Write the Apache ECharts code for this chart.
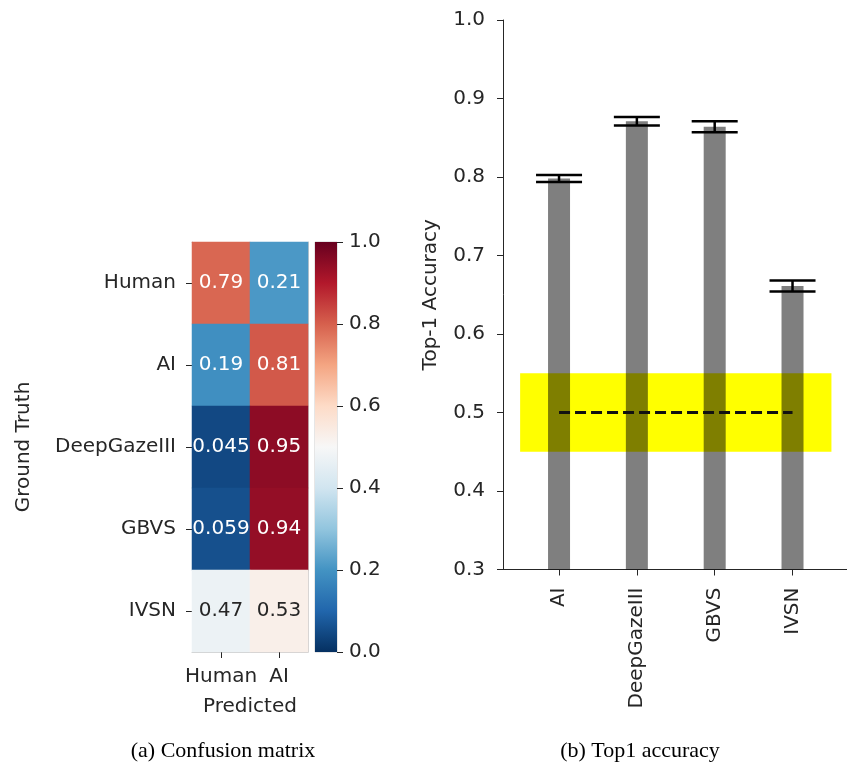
<!DOCTYPE html>
<html><head><meta charset="utf-8">
<script src="https://cdn.jsdelivr.net/npm/echarts@6/dist/echarts.min.js"></script>
<style>html,body{margin:0;padding:0;background:#fff}#c{width:847px;height:769px}</style>
</head><body><div id="c"></div>
<script>
// ---- data ----
const cmPredicted = ['Human', 'AI'];
const cmTruth = ['Human', 'AI', 'DeepGazeIII', 'GBVS', 'IVSN'];
const cmPredHuman = [0.79, 0.19, 0.045, 0.059, 0.47];
const cmPredAI = [0.21, 0.81, 0.95, 0.94, 0.53];
const colorbarMin = 0;
const colorbarMax = 1;
const colorbarStep = 0.2;
const accCategories = ['AI', 'DeepGazeIII', 'GBVS', 'IVSN'];
const accMean = [0.798, 0.871, 0.864, 0.661];
const accErr = [0.0045, 0.0055, 0.007, 0.007];
const chanceLevel = 0.5;
const chanceBandLow = 0.45;
const chanceBandHigh = 0.55;
const accAxisMin = 0.3;
const accAxisMax = 1.0;
const accAxisStep = 0.1;

// ---- style ----
const RDBU_R = ['#053061','#2166ac','#4393c3','#92c5de','#d1e5f0','#f7f7f7','#fddbc7','#f4a582','#d6604d','#b2182b','#67001f'];
const FONT = 'DejaVu Sans';
const TXT = '#262626';
const FS = 20;

const heatData = [];
cmTruth.forEach((t, r) => {
  [cmPredHuman[r], cmPredAI[r]].forEach((v, c) => {
    heatData.push({value: [c, r, v], label: {color: (v > 0.3 && v < 0.7) ? TXT : '#ffffff'}});
  });
});

const catIdx = accCategories.map((_, i) => i);
const chart = echarts.init(document.getElementById('c'), null, {renderer: 'canvas'});
chart.setOption({
  animation: false,
  backgroundColor: '#fff',
  textStyle: {fontFamily: FONT},
  title: [
    {text: '(a) Confusion matrix', left: 218, top: 735, textAlign: 'center',
     textStyle: {fontFamily: 'Liberation Serif', fontSize: 22, fontWeight: 'normal', color: '#000'}},
    {text: '(b) Top1 accuracy', left: 635, top: 735, textAlign: 'center',
     textStyle: {fontFamily: 'Liberation Serif', fontSize: 22, fontWeight: 'normal', color: '#000'}}
  ],
  grid: [
    {left: 192, top: 242, width: 116, height: 410, show: false},
    {left: 503, top: 20, width: 349, height: 549.5, show: false},
    {left: 315, top: 242, width: 22, height: 410, show: true, borderColor: '#cccccc', borderWidth: 1}
  ],
  visualMap: {show: false, min: colorbarMin, max: colorbarMax, seriesIndex: 0, inRange: {color: RDBU_R}},
  xAxis: [
    {gridIndex: 0, type: 'category', data: cmPredicted, position: 'bottom',
     name: 'Predicted', nameLocation: 'middle', nameGap: 45,
     nameTextStyle: {fontSize: FS, color: TXT, fontFamily: FONT},
     axisLine: {show: true, lineStyle: {color: '#cccccc'}},
     axisTick: {show: true, alignWithLabel: true, length: 6, lineStyle: {color: TXT}},
     axisLabel: {fontSize: FS, color: TXT, margin: 15, interval: 0, fontFamily: FONT}},
    {gridIndex: 1, type: 'value', min: -0.72, max: 3.7,
     splitLine: {show: false},
     axisLine: {show: true, onZero: false, lineStyle: {color: TXT, width: 1}},
     axisTick: {show: true, length: 6, customValues: catIdx, lineStyle: {color: TXT}},
     axisLabel: {fontSize: FS, color: TXT, rotate: 90, margin: 18, fontFamily: FONT,
       customValues: catIdx, formatter: v => accCategories[Math.round(v)] || ''}},
    {gridIndex: 2, type: 'category', data: ['cb'], show: false},
    {gridIndex: 0, type: 'category', data: cmPredicted, position: 'top', show: true,
     axisLine: {show: true, lineStyle: {color: '#cccccc'}}, axisTick: {show: false}, axisLabel: {show: false}}
  ],
  yAxis: [
    {gridIndex: 0, type: 'category', data: cmTruth, inverse: true,
     name: 'Ground Truth', nameLocation: 'middle', nameGap: 158,
     nameTextStyle: {fontSize: FS, color: TXT, fontFamily: FONT},
     axisLine: {show: true, lineStyle: {color: '#cccccc'}},
     axisTick: {show: true, alignWithLabel: true, length: 6, lineStyle: {color: TXT}},
     axisLabel: {fontSize: FS, color: TXT, margin: 16, interval: 0, fontFamily: FONT}},
    {gridIndex: 1, type: 'value', min: accAxisMin, max: accAxisMax, interval: accAxisStep,
     name: 'Top-1 Accuracy', nameLocation: 'middle', nameGap: 62,
     nameTextStyle: {fontSize: FS, color: TXT, fontFamily: FONT},
     splitLine: {show: false},
     axisLine: {show: true, onZero: false, lineStyle: {color: TXT, width: 1}},
     axisTick: {show: true, length: 6, lineStyle: {color: TXT}},
     axisLabel: {fontSize: FS, color: TXT, margin: 18, fontFamily: FONT, formatter: v => v.toFixed(1)}},
    {gridIndex: 2, type: 'value', min: colorbarMin, max: colorbarMax, interval: colorbarStep, position: 'right',
     splitLine: {show: false},
     axisLine: {show: false},
     axisTick: {show: true, length: 6, lineStyle: {color: TXT}},
     axisLabel: {fontSize: FS, color: TXT, margin: 12, fontFamily: FONT, formatter: v => v.toFixed(1)}},
    {gridIndex: 0, type: 'category', data: cmTruth, inverse: true, position: 'right', show: true,
     axisLine: {show: true, lineStyle: {color: '#cccccc'}}, axisTick: {show: false}, axisLabel: {show: false}}
  ],
  series: [
    {type: 'heatmap', xAxisIndex: 0, yAxisIndex: 0, data: heatData, z: 1,
     label: {show: true, fontSize: FS, fontFamily: FONT, formatter: p => String(p.value[2])},
     emphasis: {disabled: true}},
    {type: 'bar', xAxisIndex: 2, yAxisIndex: 2, data: [colorbarMax], barWidth: '100%', silent: true,
     itemStyle: {color: new echarts.graphic.LinearGradient(0, 1, 0, 0,
       RDBU_R.map((c, i) => ({offset: i / (RDBU_R.length - 1), color: c})))}},
    {type: 'line', xAxisIndex: 1, yAxisIndex: 1, data: [], z: 1, silent: true,
     markArea: {silent: true, itemStyle: {color: '#ffff00', opacity: 1},
       data: [[{xAxis: -0.5, yAxis: chanceBandLow}, {xAxis: accCategories.length - 0.5, yAxis: chanceBandHigh}]]}},
    {type: 'bar', xAxisIndex: 1, yAxisIndex: 1, z: 3, barWidth: 22,
     data: accMean.map((m, i) => [i, m]),
     itemStyle: {color: 'rgba(0,0,0,0.5)'}},
    {type: 'custom', xAxisIndex: 1, yAxisIndex: 1, z: 4,
     data: accMean.map((m, i) => [i, m - accErr[i], m + accErr[i]]),
     renderItem: (params, api) => {
       const lo = api.coord([api.value(0), api.value(1)]);
       const hi = api.coord([api.value(0), api.value(2)]);
       const hw = 23, st = {stroke: '#000', lineWidth: 2.5};
       return {type: 'group', children: [
         {type: 'line', shape: {x1: lo[0], y1: lo[1], x2: hi[0], y2: hi[1]}, style: st},
         {type: 'line', shape: {x1: lo[0] - hw, y1: lo[1], x2: lo[0] + hw, y2: lo[1]}, style: st},
         {type: 'line', shape: {x1: hi[0] - hw, y1: hi[1], x2: hi[0] + hw, y2: hi[1]}, style: st}
       ]};
     }},
    {type: 'line', xAxisIndex: 1, yAxisIndex: 1, z: 5, symbol: 'none',
     data: [[0, chanceLevel], [accCategories.length - 1, chanceLevel]],
     lineStyle: {color: '#111', width: 3, type: [11, 5]}}
  ]
});
</script></body></html>
